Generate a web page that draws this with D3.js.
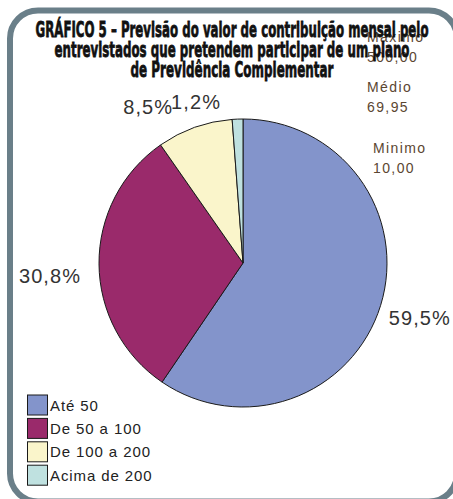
<!DOCTYPE html>
<html>
<head>
<meta charset="utf-8">
<script src="https://cdn.jsdelivr.net/npm/d3@7"></script>
<style>
  html, body { margin: 0; padding: 0; background: #fff; }
  svg { display: block; }
</style>
</head>
<body>
<svg id="chart" width="453" height="499"></svg>
<script>
// Faixas de contribuição mensal e respectivas parcelas (%)
const categories = ["Até 50", "De 50 a 100", "De 100 a 200", "Acima de 200"];
const shares = [59.5, 30.8, 8.5, 1.2];
const shareLabels = ["59,5%", "30,8%", "8,5%", "1,2%"];
const colors = ["#8394cb", "#9a2a6b", "#faf5cb", "#bfe1e0"];

// Estatísticas da contribuição (R$)
const statNames = ["Maximo", "Médio", "Minimo"];
const statValues = ["500,00", "69,95", "10,00"];

const titleLines = [
  "GRÁFICO 5 – Previsão do valor de contribuição mensal pelo",
  "entrevistados que pretendem participar de um plano",
  "de Previdência Complementar"
];

const svg = d3.select("#chart");

// moldura arredondada
svg.append("rect")
  .attr("x", 10).attr("y", 10.5)
  .attr("width", 447).attr("height", 491)
  .attr("rx", 28).attr("ry", 28)
  .attr("fill", "#fff")
  .attr("stroke", "#6a7f89")
  .attr("stroke-width", 6);

// estatísticas à direita
const statG = svg.append("g")
  .attr("font-family", "'Liberation Sans', Arial, sans-serif")
  .attr("font-size", 14)
  .attr("letter-spacing", 1.4)
  .attr("fill", "#5b4631");
const statX = [367, 367, 373];
const statY = [42, 92, 153];
statNames.forEach((n, i) => {
  statG.append("text").attr("x", statX[i]).attr("y", statY[i]).text(n);
  statG.append("text").attr("x", statX[i]).attr("y", statY[i] + 19.5).text(statValues[i]);
});

// título (negrito, comprimido e alongado)
const titleWidths = [393, 355, 203];
const titleG = svg.append("g")
  .attr("font-family", "'DejaVu Sans', sans-serif")
  .attr("font-weight", "bold")
  .attr("font-size", 19)
  .attr("fill", "#111")
  .attr("stroke", "#111")
  .attr("stroke-width", 0.7)
  .attr("text-anchor", "middle");
titleLines.forEach((t, i) => {
  titleG.append("text")
    .attr("transform", `translate(232,${37 + i * 19.8}) scale(1,1.15)`)
    .attr("textLength", titleWidths[i])
    .attr("lengthAdjust", "spacingAndGlyphs")
    .text(t);
});

// pizza
const cx = 243, cy = 263, radius = 144;
const pie = d3.pie().sort(null).value(d => d)
  .startAngle(0).endAngle(2 * Math.PI);
const arcs = pie(shares);
const arc = d3.arc().innerRadius(0).outerRadius(radius);

const pieG = svg.append("g").attr("transform", `translate(${cx},${cy})`);
pieG.selectAll("path")
  .data(arcs)
  .join("path")
  .attr("d", arc)
  .attr("fill", (d, i) => colors[i])
  .attr("stroke", "#1a1a1a")
  .attr("stroke-width", 1)
  .attr("stroke-linejoin", "round");

// rótulos de percentagem fora da pizza
const labelArc = d3.arc().innerRadius(radius + 40).outerRadius(radius + 40);
// pequenos ajustes para evitar sobreposição das fatias estreitas
const nudge = [[1, 8], [-9, 19], [-33, 24], [-40, 30]];
pieG.selectAll("text.pct")
  .data(arcs)
  .join("text")
  .attr("class", "pct")
  .attr("font-family", "'Liberation Sans', Arial, sans-serif")
  .attr("font-size", 20)
  .attr("letter-spacing", 1.1)
  .attr("fill", "#333")
  .attr("text-anchor", "middle")
  .attr("x", (d, i) => labelArc.centroid(d)[0] + nudge[i][0])
  .attr("y", (d, i) => labelArc.centroid(d)[1] + nudge[i][1])
  .text((d, i) => shareLabels[i]);

// legenda
const legG = svg.append("g")
  .attr("font-family", "'Liberation Sans', Arial, sans-serif")
  .attr("font-size", 15)
  .attr("letter-spacing", 0.9)
  .attr("fill", "#222");
categories.forEach((c, i) => {
  const y = 395 + i * 23.4;
  legG.append("rect")
    .attr("x", 27.5).attr("y", y)
    .attr("width", 20).attr("height", 20)
    .attr("fill", colors[i])
    .attr("stroke", "#1a1a1a")
    .attr("stroke-width", 1);
  legG.append("text")
    .attr("x", 50).attr("y", y + 15.5)
    .text(c);
});
</script>
</body>
</html>
